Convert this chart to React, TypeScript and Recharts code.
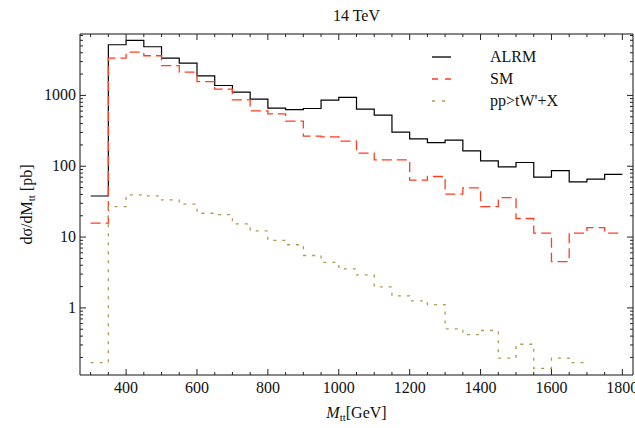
import React from "react";
import {
  ComposedChart,
  Line,
  XAxis,
  YAxis,
  Legend
} from "recharts";

// bin edges of the M_tt histogram (GeV)
const binEdges = [
  300, 350, 400, 450, 500, 550, 600, 650, 700, 750, 800, 850, 900, 950, 1000, 1050,
  1100, 1150, 1200, 1250, 1300, 1350, 1400, 1450, 1500, 1550, 1600, 1650, 1700, 1750, 1800
];

// dsigma/dM_tt per bin [pb]
const alrm = [
  38, 5190, 5970, 4860, 3365, 2860, 1890, 1380, 1113, 887, 662, 631, 653, 859, 940,
  640, 526, 303, 244, 216, 234, 165, 119, 98, 113, 70, 87, 60, 66, 77
];
const sm = [
  15.7, 3365, 4080, 3630, 2640, 2135, 1570, 1228, 867, 603, 550, 433, 266, 260, 226,
  153, 123, 123, 63.6, 71.6, 40.4, 49.5, 27, 36, 18.3, 11.4, 4.5, 11.4, 13.6, 11.4
];
const tWprime = [
  0.169, 27, 39.5, 38.2, 33.5, 29.1, 21.7, 20.8, 15.4, 12.2, 9.0, 7.8, 5.5, 4.4, 3.56,
  2.92, 1.98, 1.48, 1.26, 1.11, 0.505, 0.42, 0.48, 0.195, 0.307, 0.14, 0.195, 0.169
];

const xLabels = [400, 600, 800, 1000, 1200, 1400, 1600, 1800];
const yLabels = [1, 10, 100, 1000];
const yTicks = [
  0.2, 0.3, 0.4, 0.5, 0.6, 0.7, 0.8, 0.9,
  1, 2, 3, 4, 5, 6, 7, 8, 9,
  10, 20, 30, 40, 50, 60, 70, 80, 90,
  100, 200, 300, 400, 500, 600, 700, 800, 900,
  1000, 2000, 3000, 4000, 5000, 6000, 7000
];

const FONT = "'Liberation Serif', 'Times New Roman', serif";
const RED = "#ff3d1f";
const OLIVE = "#b09a50";

const legendDash: Record<string, string | undefined> = {
  ALRM: undefined,
  SM: "6 7",
  "pp>tW'+X": "3 7"
};

function toSteps(values: number[]) {
  const pts = values.map((v, i) => ({ x: binEdges[i], y: v }));
  pts.push({ x: binEdges[values.length], y: values[values.length - 1] });
  return pts;
}

const alrmData = toSteps(alrm);
const smData = toSteps(sm);
const twData = toSteps(tWprime);

function BottomTick(props: any) {
  const { x, y, payload } = props;
  const major = xLabels.includes(payload.value);
  return (
    <g>
      <line x1={x} x2={x} y1={y} y2={y - (major ? 6 : 3)} stroke="#222" />
      {major && (
        <text x={x} y={y + 18} textAnchor="middle" fontFamily={FONT} fontSize={16} fill="#111">
          {payload.value}
        </text>
      )}
    </g>
  );
}

function TopTick(props: any) {
  const { x, y, payload } = props;
  const major = xLabels.includes(payload.value);
  return <line x1={x} x2={x} y1={y} y2={y + (major ? 6 : 3)} stroke="#222" />;
}

function LeftTick(props: any) {
  const { x, y, payload } = props;
  const major = yLabels.includes(payload.value);
  return (
    <g>
      <line x1={x} x2={x + (major ? 6 : 3)} y1={y} y2={y} stroke="#222" />
      {major && (
        <text x={x - 4} y={y} dy={5} textAnchor="end" fontFamily={FONT} fontSize={16} fill="#111">
          {payload.value}
        </text>
      )}
    </g>
  );
}

function RightTick(props: any) {
  const { x, y, payload } = props;
  const major = yLabels.includes(payload.value);
  return <line x1={x} x2={x - (major ? 6 : 3)} y1={y} y2={y} stroke="#222" />;
}

function XTitle(props: any) {
  const { x, y, width } = props.viewBox;
  return (
    <text x={x + width / 2} y={y + 43} textAnchor="middle" fontFamily={FONT} fontSize={16} fill="#111">
      <tspan fontStyle="italic">M</tspan>
      <tspan fontSize={11} dy={3}>tt</tspan>
      <tspan dy={-3}>[GeV]</tspan>
    </text>
  );
}

function PlotTitle(props: any) {
  const { x, width } = props.viewBox;
  return (
    <text x={x + width / 2} y={21} textAnchor="middle" fontFamily={FONT} fontSize={16} fill="#111">
      14 TeV
    </text>
  );
}

function YTitle(props: any) {
  const { y, height } = props.viewBox;
  const cx = 27;
  const cy = y + height / 2;
  return (
    <text
      x={cx}
      y={cy}
      dy={5}
      transform={`rotate(-90, ${cx}, ${cy})`}
      textAnchor="middle"
      fontFamily={FONT}
      fontSize={16}
      fill="#111"
    >
      dσ/dM
      <tspan fontSize={11} dy={3}>tt</tspan>
      <tspan dy={-3}> [pb]</tspan>
    </text>
  );
}

function LegendBox(props: any) {
  const items = props.payload || [];
  return (
    <svg width={150} height={70}>
      {items.map((e: any, i: number) => {
        const cy = 12 + i * 22;
        return (
          <g key={e.value}>
            <line
              x1={2}
              x2={21}
              y1={cy}
              y2={cy}
              stroke={e.color}
              strokeWidth={1.3}
              strokeDasharray={legendDash[e.value]}
            />
            <text x={60} y={cy} dy={5} fontFamily={FONT} fontSize={16} fill="#111">
              {e.value}
            </text>
          </g>
        );
      })}
    </svg>
  );
}

export default function App() {
  return (
    <div style={{ position: "absolute", left: 0, top: 0, background: "#fff" }}>
      <ComposedChart width={635} height={428} margin={{ top: 0, right: 1, bottom: 0, left: 0 }}>
        <XAxis
          xAxisId="bottom"
          dataKey="x"
          type="number"
          domain={[270, 1830]}
          allowDataOverflow
          ticks={binEdges}
          interval={0}
          height={53}
          tickSize={0}
          tickMargin={0}
          tickLine={false}
          tick={BottomTick}
          axisLine={{ stroke: "#111" }}
          label={{ content: XTitle }}
        />
        <XAxis
          xAxisId="top"
          orientation="top"
          dataKey="x"
          type="number"
          domain={[270, 1830]}
          allowDataOverflow
          ticks={binEdges}
          interval={0}
          height={34}
          tickSize={0}
          tickMargin={0}
          tickLine={false}
          tick={TopTick}
          axisLine={{ stroke: "#111" }}
          label={{ content: PlotTitle }}
        />
        <YAxis
          yAxisId="left"
          type="number"
          scale="log"
          domain={[0.113, 7360]}
          allowDataOverflow
          ticks={yTicks}
          interval={0}
          width={80}
          tickSize={0}
          tickMargin={0}
          tickLine={false}
          tick={LeftTick}
          axisLine={{ stroke: "#111" }}
          label={{ content: YTitle }}
        />
        <YAxis
          yAxisId="right"
          orientation="right"
          type="number"
          scale="log"
          domain={[0.113, 7360]}
          allowDataOverflow
          ticks={yTicks}
          interval={0}
          width={1}
          tickSize={0}
          tickMargin={0}
          tickLine={false}
          tick={RightTick}
          axisLine={{ stroke: "#111" }}
        />
        <Legend
          layout="vertical"
          align="center"
          verticalAlign="middle"
          wrapperStyle={{ left: 430, top: 45, width: 150 }}
          content={LegendBox}
        />
        <Line
          xAxisId="bottom"
          yAxisId="left"
          name="ALRM"
          data={alrmData}
          dataKey="y"
          type="stepAfter"
          stroke="#000"
          strokeWidth={1.2}
          dot={false}
          activeDot={false}
          isAnimationActive={false}
        />
        <Line
          xAxisId="bottom"
          yAxisId="left"
          name="SM"
          data={smData}
          dataKey="y"
          type="stepAfter"
          stroke={RED}
          strokeWidth={1.3}
          strokeDasharray="10 5"
          dot={false}
          activeDot={false}
          isAnimationActive={false}
        />
        <Line
          xAxisId="bottom"
          yAxisId="left"
          name="pp>tW'+X"
          data={twData}
          dataKey="y"
          type="stepAfter"
          stroke={OLIVE}
          strokeWidth={1.3}
          strokeDasharray="3 6"
          dot={false}
          activeDot={false}
          isAnimationActive={false}
        />
      </ComposedChart>
    </div>
  );
}
